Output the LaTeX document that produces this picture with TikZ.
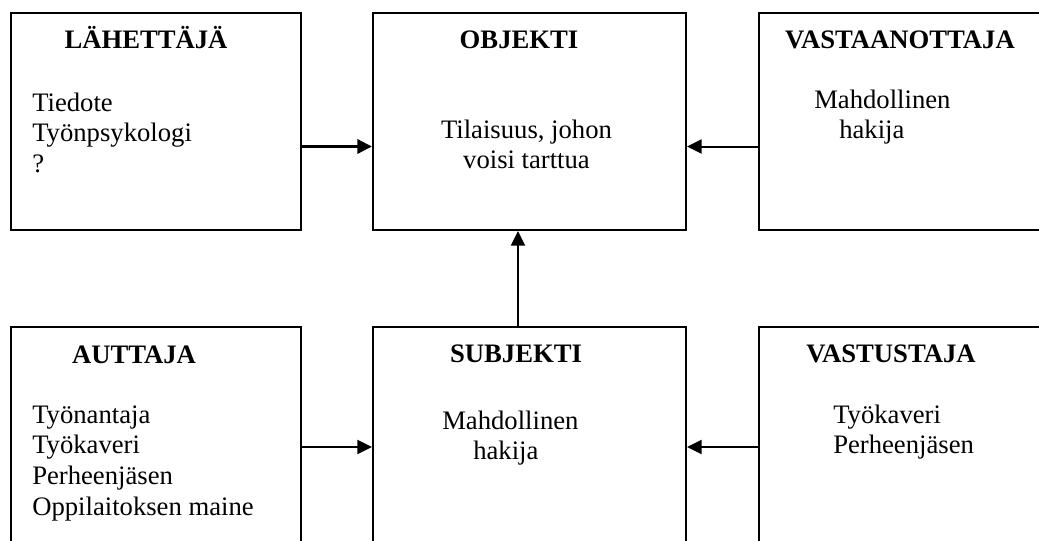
\documentclass[tikz,border=0pt]{standalone}
\usepackage{fontspec}
\setmainfont{Liberation Serif}
\usetikzlibrary{arrows.meta}
\begin{document}
\begin{tikzpicture}[x=0.75pt,y=-0.75pt,
  box/.style={draw,line width=1.5pt,rectangle,inner sep=0pt},
  title/.style={anchor=base,inner sep=0pt,font=\fontsize{20}{23}\selectfont\bfseries},
  body/.style={anchor=base west,inner sep=0pt,font=\fontsize{20}{23}\selectfont},
  cbody/.style={anchor=base,inner sep=0pt,font=\fontsize{20}{23}\selectfont},
  link/.style={line width=1.5pt,-{Triangle[length=11pt,width=10.5pt]}},
  boldlink/.style={line width=2.5pt,-{Triangle[length=11pt,width=10.5pt]}}]
\path[use as bounding box] (0,0) rectangle (1039,540);
\clip (0,0) rectangle (1039,540);

% boxes of the actant model
\node[box,minimum width=217.5pt,minimum height=162.75pt] (snd) at (156,121.5) {};
\node[box,minimum width=234.75pt,minimum height=162.75pt] (obj) at (529.5,121.5) {};
\node[box,minimum width=225.75pt,minimum height=162.75pt] (rcv) at (909.5,121.5) {};
\node[box,minimum width=217.5pt,minimum height=174.75pt] (aux) at (156,443.5) {};
\node[box,minimum width=234.75pt,minimum height=174.75pt] (subj) at (529.5,443.5) {};
\node[box,minimum width=225.75pt,minimum height=174.75pt] (opp) at (909.5,443.5) {};

% headings
\node[title] (sndT) at (146,48) {LÄHETTÄJÄ};
\node[title] (objT) at (519,48) {OBJEKTI};
\node[title] (rcvT) at (900,48) {VASTAANOTTAJA};
\node[title] (auxT) at (134,363) {AUTTAJA};
\node[title] (subjT) at (516,362) {SUBJEKTI};
\node[title] (oppT) at (891,362) {VASTUSTAJA};

% contents
\node[body] (sndB) at (32,111) {\begin{tabular}[t]{@{}l@{}}Tiedote\\Työnpsykologi\\?\end{tabular}};
\node[cbody] (objB) at (526.5,138) {\begin{tabular}[t]{@{}c@{}}Tilaisuus, johon\\voisi tarttua\end{tabular}};
\node[body] (rcvB) at (814,108) {\begin{tabular}[t]{@{}l@{}}Mahdollinen\\\hspace*{18.75pt}hakija\end{tabular}};
\node[body] (auxB) at (32,423) {\begin{tabular}[t]{@{}l@{}}Työnantaja\\Työkaveri\\Perheenjäsen\\Oppilaitoksen maine\end{tabular}};
\node[body] (subjB) at (442,429) {\begin{tabular}[t]{@{}l@{}}Mahdollinen\\\hspace*{23.25pt}hakija\end{tabular}};
\node[body] (oppB) at (833,423) {\begin{tabular}[t]{@{}l@{}}Työkaveri\\Perheenjäsen\end{tabular}};

% connector rows and column
\coordinate (rowtop) at (0,146.5);
\coordinate (rowbot) at (0,447);
\coordinate (colmid) at (518,0);

\draw[boldlink] (snd.east |- rowtop) -- (obj.west |- rowtop);
\draw[link] (rcv.west |- rowtop) -- (obj.east |- rowtop);
\draw[link] (subj.north -| colmid) -- (obj.south -| colmid);
\draw[link] (aux.east |- rowbot) -- (subj.west |- rowbot);
\draw[link] (opp.west |- rowbot) -- (subj.east |- rowbot);
\end{tikzpicture}
\end{document}
